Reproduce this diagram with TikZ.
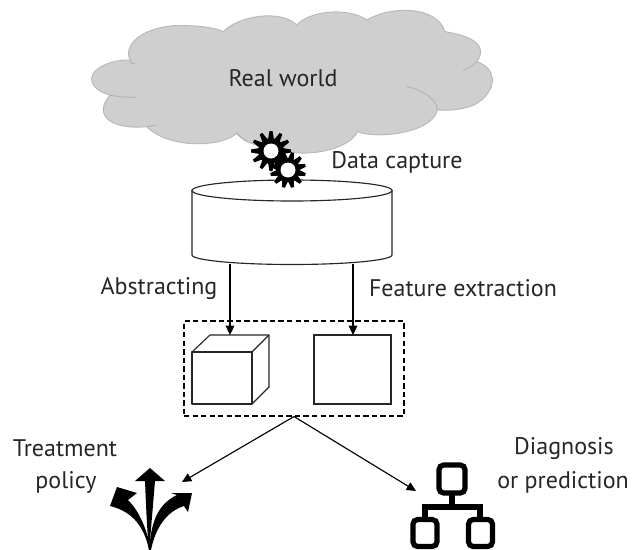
\documentclass[tikz,border=0pt]{standalone}
\usepackage{fontspec}
\setmainfont{PT Sans}
\usetikzlibrary{arrows.meta}
\tikzset{
  px/.style={x=0.75pt,y=-0.75pt},
  lbl/.style={font=\fontsize{18}{20}\selectfont,text=black!85,inner sep=0pt,align=center},
  conn/.style={draw=black,line width=0.85pt,-{Triangle[length=7pt,width=6.5pt]}},
  shapeline/.style={draw=black!85,line width=0.85pt,fill=white},
  edgeline/.style={draw=black!85,line width=0.85pt},
  netbox/.style={draw=black,line width=3.9pt,rounded corners=3.5pt,fill=white},
  netline/.style={draw=black,line width=3.9pt},
  cloudfill/.style={fill=black!19,draw=black!28,line width=0.7pt},
  cloudline/.style={draw=black!30,line width=0.7pt},
  gearpic/.pic={
    \foreach \a in {0,30,...,330}{
      \fill[black,rotate=\a+\gearrot] (-1.5,-\gearouter) -- (1.5,-\gearouter) -- (2.9,-\gearbody+1) -- (-2.9,-\gearbody+1) -- cycle;
    }
    \fill[black] (0,0) circle[radius=\gearbody];
    \fill[white] (0,0) circle[radius=\gearhole];
  }
}
\def\gearrot{0}\def\gearouter{20}\def\gearbody{13}\def\gearhole{7.5}
\begin{document}
\begin{tikzpicture}[px]
\useasboundingbox (0,0) rectangle (633,550);
% cloud
\begin{scope}[shift={(80,0)},x=0.25pt,y=-0.25pt]
\path[cloudfill] (35,235)
 .. controls (35,205) and (95,178) .. (150,180)
 .. controls (125,125) and (210,70) .. (320,77)
 .. controls (370,78) and (410,85) .. (430,95)
 .. controls (470,50) and (600,25) .. (650,75)
 .. controls (690,30) and (810,22) .. (860,60)
 .. controls (930,18) and (1070,15) .. (1095,95)
 .. controls (1160,105) and (1230,130) .. (1190,185)
 .. controls (1250,205) and (1250,260) .. (1205,300)
 .. controls (1170,330) and (1110,332) .. (1072,330)
 .. controls (1060,395) and (900,420) .. (832,395)
 .. controls (810,445) and (700,470) .. (620,455)
 .. controls (560,445) and (500,435) .. (470,400)
 .. controls (430,440) and (270,450) .. (200,380)
 .. controls (100,390) and (35,350) .. (90,285)
 .. controls (55,275) and (35,260) .. (35,235) -- cycle;
\draw[cloudline] (150,180) .. controls (150,186) and (155,190) .. (165,192);
\draw[cloudline] (90,285) .. controls (115,291) and (140,292) .. (168,292);
\draw[cloudline] (200,380) .. controls (210,378) and (220,377) .. (230,375);
\draw[cloudline] (470,400) .. controls (480,410) and (490,418) .. (502,426);
\draw[cloudline] (1190,185) .. controls (1180,197) and (1165,205) .. (1150,212);
\draw[cloudline] (1072,330) .. controls (1072,300) and (1030,270) .. (980,260);
\end{scope}
\node[lbl] (real) at (283,78) {Real world};
% cylinder
\path[shapeline] (192,190.5) -- (192,255) arc[start angle=180,end angle=0,x radius=100,y radius=9.5] -- (392,190.5) -- cycle;
\draw[shapeline] (292,190.5) ellipse[x radius=100,y radius=10.5];
\coordinate (cylL) at (230,264);
\coordinate (cylR) at (353,264);
% gears
\pic at (271,151) {gearpic};
\def\gearouter{18}\def\gearbody{12}\def\gearhole{7.5}\def\gearrot{15}
\pic at (288,170) {gearpic};
\node[lbl] (capture) at (397,162) {Data capture};
% dashed frame
\node[draw=black,dash pattern=on 4pt off 2.4pt,line width=0.8pt,minimum width=220*0.75pt,minimum height=95*0.75pt,inner sep=0pt] (frame) at (294,368.5) {};
% cube
\draw[edgeline,line join=round] (192,352) rectangle (252,404);
\draw[edgeline,line join=round] (192,352) -- (210,335) -- (269,335) -- (269,387) -- (252,404);
\draw[edgeline] (252,352) -- (269,335);
\coordinate (cubeTop) at (230,335);
% square
\node[shapeline,minimum width=77*0.75pt,minimum height=69*0.75pt,inner sep=0pt] (square) at (352.5,369.5) {};
\coordinate (squareTop) at (353,335);
\draw[conn] (cylL) -- (cubeTop);
\draw[conn] (cylR) -- (squareTop);
\node[lbl,anchor=center] (abstract) at (159,289) {Abstracting};
\node[lbl,anchor=center] (feature) at (463,288) {Feature extraction};
% output arrows
\coordinate (policyTip) at (182,482);
\coordinate (diagTip) at (416,491);
\draw[conn] (frame.south) -- (policyTip);
\draw[conn] (frame.south) -- (diagTip);
\node[lbl] (treat) at (65,448) {Treatment};
\node[lbl] (policy) at (66,482) {policy};
\node[lbl] (diag) at (564,449) {Diagnosis};
\node[lbl] (pred) at (563,482) {or prediction};
% branching arrows icon
\fill[black] (149,550) .. controls (147,530) and (146,505) .. (145,481) -- (135,481) -- (150,468) -- (165,481) -- (155,481) .. controls (153,505) and (151,530) .. (149,550) -- cycle;
\fill[black] (149,550) .. controls (145,530) and (135,512) .. (110,506) -- (117,487) -- (137,493) -- (128,500) .. controls (140,512) and (147,530) .. (151,550) -- cycle;
\fill[black] (149,550) .. controls (151,525) and (156,505) .. (177,495) -- (171,493) -- (192,493) -- (188,512) -- (184,506) .. controls (165,512) and (155,530) .. (151,550) -- cycle;
% network icon
\draw[netline] (452,495) -- (452,507);
\draw[netline] (425,519) -- (425,507) -- (480,507) -- (480,519);
\node[netbox,minimum width=26*0.75pt,minimum height=28*0.75pt,inner sep=0pt] (nettop) at (452,479) {};
\node[netbox,minimum width=24*0.75pt,minimum height=27*0.75pt,inner sep=0pt] (netleft) at (425,533) {};
\node[netbox,minimum width=24*0.75pt,minimum height=27*0.75pt,inner sep=0pt] (netright) at (480.5,533) {};
\end{tikzpicture}
\end{document}
